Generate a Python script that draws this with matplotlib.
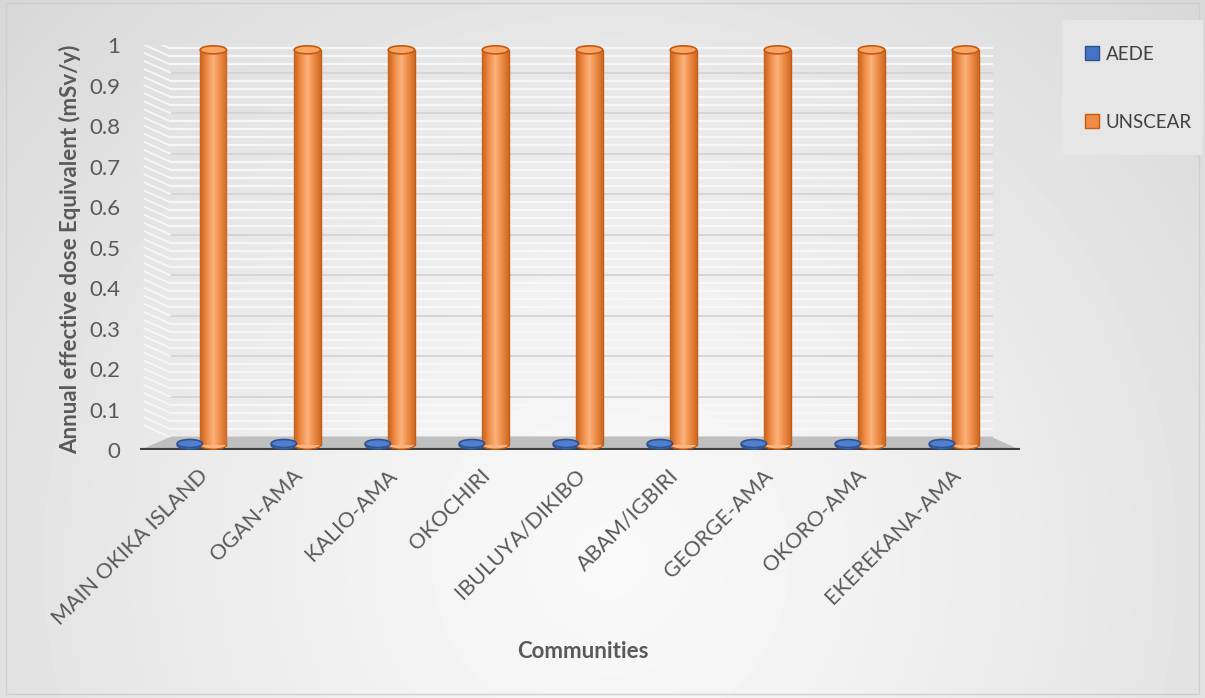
import matplotlib
matplotlib.use('Agg')
import matplotlib.pyplot as plt
import numpy as np
from matplotlib.patches import Ellipse, Polygon, Rectangle
from matplotlib.colors import LinearSegmentedColormap

plt.rcParams['font.family'] = ['Lato', 'DejaVu Sans']

# ── data ──
communities = ['MAIN OKIKA ISLAND', 'OGAN-AMA', 'KALIO-AMA', 'OKOCHIRI',
               'IBULUYA/DIKIBO', 'ABAM/IGBIRI', 'GEORGE-AMA', 'OKORO-AMA',
               'EKEREKANA-AMA']
aede = [0.004, 0.004, 0.004, 0.004, 0.004, 0.004, 0.004, 0.004, 0.004]
unscear = [1, 1, 1, 1, 1, 1, 1, 1, 1]
yticks = [0, 0.1, 0.2, 0.3, 0.4, 0.5, 0.6, 0.7, 0.8, 0.9, 1]

TEXT = '#595959'
W, H = 1205, 698
fig = plt.figure(figsize=(W / 100, H / 100), dpi=100)

# radial grey background
bg = fig.add_axes([0, 0, 1, 1], zorder=-10)
yy, xx = np.mgrid[0:H, 0:W]
r = np.hypot(xx - 610, yy - 560) / 820
val = np.clip(0.975 - 0.13 * r ** 1.3, 0.82, 1)
bg.imshow(val, cmap='gray', vmin=0, vmax=1, aspect='auto', extent=[0, W, H, 0])
bg.add_patch(Rectangle((6, 3), W - 12, H - 7, fill=False, ec='#cfcfcf', lw=1))
# legend panel
bg.add_patch(Rectangle((1062, 20), 141, 135, fc='#e6e6e6', ec='none'))
bg.set_xlim(0, W)
bg.set_ylim(H, 0)
bg.axis('off')

ax = fig.add_axes([140 / W, 1 - 450 / H, 880 / W, 405 / H])
ax.set_xlim(-0.65, 8.71)
ax.set_ylim(0, 1)
ax.patch.set_alpha(0)
for s in ax.spines.values():
    s.set_visible(False)

# back wall grid (major + faint minor lines) and side-wall diagonals
XB0, XB1 = -0.33, 8.41
for k in range(0, 50):
    v = k * 0.02 + 0.032
    major = k % 5 == 0
    c = '#d4d4d4' if major else '#f7f7f7'
    lw = 1.3 if major else 1.6
    ax.plot([XB0, XB1], [v, v], color=c, lw=lw, zorder=1)
    ax.plot([-0.6, XB0], [v + 0.028, v], color='#f7f7f7', lw=1.4, zorder=1)

# floor
floor = Polygon([[-0.65, 0], [XB0, 0.032], [XB1, 0.032], [8.71, 0]],
                closed=True, fc='#bfbfbf', ec='none', zorder=2)
ax.add_patch(floor)
ax.plot([-0.65, 8.71], [0, 0], color='#404040', lw=3, zorder=3, solid_capstyle='butt')

x = np.arange(len(communities))
BASE = 0.012
SCALE = 0.976
EH = 0.02

def cylinders(xpos, vals, width, cols, edge, top, label):
    cmap = LinearSegmentedColormap.from_list('c', cols)
    grad = np.linspace(0, 1, 64)[None, :]
    bars = ax.bar(xpos, [v * SCALE for v in vals], width, bottom=BASE,
                  color=cols[1], edgecolor=edge, lw=1, zorder=4, label=label)
    for b in bars:
        x0, w, h = b.get_x(), b.get_width(), b.get_height()
        im = ax.imshow(grad, cmap=cmap, aspect='auto', zorder=4.5,
                       extent=[x0, x0 + w, BASE, BASE + h])
        im.set_clip_path(b)
        ax.add_patch(Ellipse((x0 + w / 2, BASE), w, EH, fc=cols[2], ec=edge,
                             lw=1, zorder=4.2))
        ax.add_patch(Ellipse((x0 + w / 2, BASE + h), w, EH, fc=top, ec=edge,
                             lw=1.2, zorder=5))
    return bars

cylinders(x - 0.12, aede, 0.27, ['#2f5597', '#4472c4', '#5b8ad6', '#3a64b0'],
          '#2f528f', '#4f7fd0', 'AEDE')
cylinders(x + 0.13, unscear, 0.28, ['#c8621c', '#f08c46', '#fbb47e', '#ee8a44', '#cc6a26'],
          '#c55a11', '#f7a464', 'UNSCEAR')

ax.set_yticks(yticks)
ax.set_yticklabels([f'{t:g}' for t in yticks])
ax.tick_params(axis='y', length=0, pad=14, labelsize=16, labelcolor=TEXT)
ax.set_xticks(x - 0.03)
ax.set_xticklabels(communities, rotation=45, ha='right', rotation_mode='anchor')
ax.tick_params(axis='x', length=0, pad=11, labelsize=15.5, labelcolor=TEXT)

fig.text(70 / W, 1 - 249 / H, 'Annual effective dose Equivalent (mSv/y)',
         rotation=90, ha='center', va='center', fontsize=16, fontweight='bold',
         color=TEXT)
fig.text(583 / W, 1 - 652 / H, 'Communities', ha='center', va='center',
         fontsize=16, fontweight='bold', color=TEXT)

h, l = ax.get_legend_handles_labels()
leg = fig.legend(h, l, loc='upper left', bbox_to_anchor=(1068 / W, 1 - 29 / H),
                 frameon=False, fontsize=13.5, labelspacing=2.7,
                 handlelength=0.75, handleheight=0.75, handletextpad=0.35)
for t in leg.get_texts():
    t.set_color('#404040')

fig.savefig('out.png', dpi=100)
